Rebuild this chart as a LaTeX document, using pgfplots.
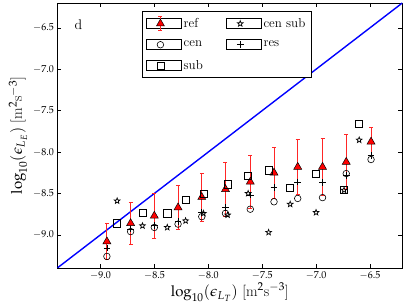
\documentclass[border=0pt]{standalone}
\usepackage{mathpazo}
\usepackage{pgfplots}
\pgfplotsset{compat=1.18}
\usepackage{pgfplotstable}

\pgfdeclareplotmark{ostar}{%
  \pgfpathmoveto{\pgfpointpolar{90}{\pgfplotmarksize}}%
  \pgfpathlineto{\pgfpointpolar{126}{0.42\pgfplotmarksize}}%
  \pgfpathlineto{\pgfpointpolar{162}{\pgfplotmarksize}}%
  \pgfpathlineto{\pgfpointpolar{198}{0.42\pgfplotmarksize}}%
  \pgfpathlineto{\pgfpointpolar{234}{\pgfplotmarksize}}%
  \pgfpathlineto{\pgfpointpolar{270}{0.42\pgfplotmarksize}}%
  \pgfpathlineto{\pgfpointpolar{306}{\pgfplotmarksize}}%
  \pgfpathlineto{\pgfpointpolar{342}{0.42\pgfplotmarksize}}%
  \pgfpathlineto{\pgfpointpolar{18}{\pgfplotmarksize}}%
  \pgfpathlineto{\pgfpointpolar{54}{0.42\pgfplotmarksize}}%
  \pgfpathclose
  \pgfusepathqstroke
}

\pgfplotsset{
  markleg/.style={legend image code/.code={%
    \path (0pt,-5pt) rectangle (35pt,5pt);
    \draw[mark repeat=2,mark phase=2,##1] plot coordinates {(0pt,0pt)(14pt,0pt)(28pt,0pt)};
  }},
  refleg/.style={legend image code/.code={%
    \path (0pt,-5pt) rectangle (35pt,5pt);
    \draw[red!85, line width=0.8pt] (14pt,-7pt) -- (14pt,7pt);
    \draw[red!85, line width=0.8pt] (12pt,-7pt) -- (16pt,-7pt);
    \draw[red!85, line width=0.8pt] (12pt,7pt) -- (16pt,7pt);
    \draw[mark repeat=2,mark phase=2,##1] plot coordinates {(0pt,0pt)(14pt,0pt)(28pt,0pt)};
  }},
}

\pgfplotstableread{
x y e
-8.94 -9.08 0.22
-8.72 -8.86 0.25
-8.50 -8.77 0.27
-8.28 -8.67 0.265
-8.06 -8.545 0.29
-7.84 -8.45 0.33
-7.61 -8.36 0.32
-7.39 -8.25 0.31
-7.17 -8.18 0.33
-6.94 -8.18 0.34
-6.72 -8.12 0.33
-6.49 -7.876 0.17
}\refdata

\pgfplotstableread{
x y
-8.94 -9.26
-8.72 -8.96
-8.50 -8.91
-8.28 -8.87
-8.06 -8.78
-7.84 -8.74
-7.61 -8.69
-7.39 -8.60
-7.17 -8.56
-6.94 -8.55
-6.72 -8.26
-6.49 -8.09
}\cendata

\pgfplotstableread{
x y
-8.94 -9.16
-8.72 -8.93
-8.50 -8.89
-8.28 -8.84
-8.06 -8.73
-7.84 -8.67
-7.61 -8.52
-7.39 -8.43
-7.17 -8.36
-6.94 -8.37
-6.72 -8.28
-6.49 -8.04
}\resdata

\pgfplotstableread{
x y
-8.845 -8.86
-8.61 -8.73
-8.38 -8.74
-8.21 -8.58
-8.04 -8.50
-7.82 -8.39
-7.635 -8.29
-7.44 -8.22
-7.24 -8.43
-7.00 -8.26
-6.74 -8.46
-6.60 -7.66
}\subdata

\pgfplotstableread{
x y
-8.845 -8.59
-8.61 -8.89
-8.38 -8.91
-8.21 -8.83
-8.045 -8.74
-7.82 -8.76
-7.63 -8.50
-7.44 -8.97
-7.24 -8.63
-7.00 -8.73
-6.74 -8.46
-6.60 -7.855
}\censubdata

\begin{document}
\begin{tikzpicture}
\begin{axis}[
  scale only axis,
  width=345pt, height=265pt,
  xmin=-9.4, xmax=-6.2, ymin=-9.4, ymax=-6.2,
  xtick={-9,-8.5,...,-6.5},
  ytick={-9,-8.5,...,-6.5},
  tick align=inside,
  major tick length=4pt,
  xtick pos=both, ytick pos=both,
  xticklabel pos=lower, yticklabel pos=left,
  tick style={black, line width=0.5pt},
  axis line style={black, line width=0.8pt},
  ticklabel style={font=\fontsize{10}{12}\selectfont},
  xticklabel style={/pgf/number format/.cd, fixed, fixed zerofill, precision=1},
  yticklabel style={/pgf/number format/.cd, fixed, fixed zerofill, precision=1},
  xlabel={$\log_{10}(\epsilon_{L_T})$\ [m$^2$s$^{-3}$]},
  ylabel={$\log_{10}(\epsilon_{L_E})$\ [m$^2$s$^{-3}$]},
  label style={font=\fontsize{15}{17}\selectfont},
  xlabel style={yshift=3pt},
  ylabel style={yshift=-1pt},
  legend columns=2,
  legend cell align=left,
  legend style={at={(0.245,0.968)}, anchor=north west, draw=black, line width=0.6pt,
    font=\fontsize{13}{15}\selectfont, inner xsep=4pt, inner ysep=4.5pt,
    /tikz/every even column/.append style={column sep=21pt},
    row sep=8pt},
]
\addplot[blue, line width=1.4pt, forget plot] coordinates {(-9.4,-9.4) (-6.2,-6.2)};

\addplot[only marks, mark=triangle*, mark size=4.6pt,
  mark options={fill=red, draw=black, line width=0.5pt}, refleg,
  error bars/.cd, y dir=both, y explicit,
  error bar style={red!85, line width=0.8pt},
  error mark options={red!85, rotate=90, mark size=2pt, line width=0.8pt},
  ]
  table[x=x, y=y, y error=e] {\refdata};
\addlegendentry{ref}

\addplot[only marks, mark=ostar, mark size=3pt, black, line width=0.7pt, forget plot]
  table[x=x, y=y] {\censubdata};

\addplot[only marks, mark=o, mark size=3.3pt, black, line width=0.6pt, forget plot]
  table[x=x, y=y] {\cendata};

\addplot[only marks, mark=+, mark size=3.3pt, black, line width=0.6pt, forget plot]
  table[x=x, y=y] {\resdata};

\addplot[only marks, mark=square, mark size=3.6pt, black, line width=0.6pt, forget plot]
  table[x=x, y=y] {\subdata};

\addlegendimage{only marks, mark=ostar, mark size=3pt, black, line width=0.7pt, markleg}
\addlegendentry{cen sub}
\addlegendimage{only marks, mark=o, mark size=3.3pt, black, line width=0.6pt, markleg}
\addlegendentry{cen}
\addlegendimage{only marks, mark=+, mark size=3.3pt, black, line width=0.6pt, markleg}
\addlegendentry{res}
\addlegendimage{only marks, mark=square, mark size=3.6pt, black, line width=0.6pt, markleg}
\addlegendentry{sub}

\node[font=\fontsize{14}{16}\selectfont] at (rel axis cs:0.061,0.917) {d};
\end{axis}
\pgfresetboundingbox
\path ([shift={(-57.3pt,-37pt)}]current axis.south west) rectangle ([shift={(4.7pt,3pt)}]current axis.north east);
\end{tikzpicture}
\end{document}
